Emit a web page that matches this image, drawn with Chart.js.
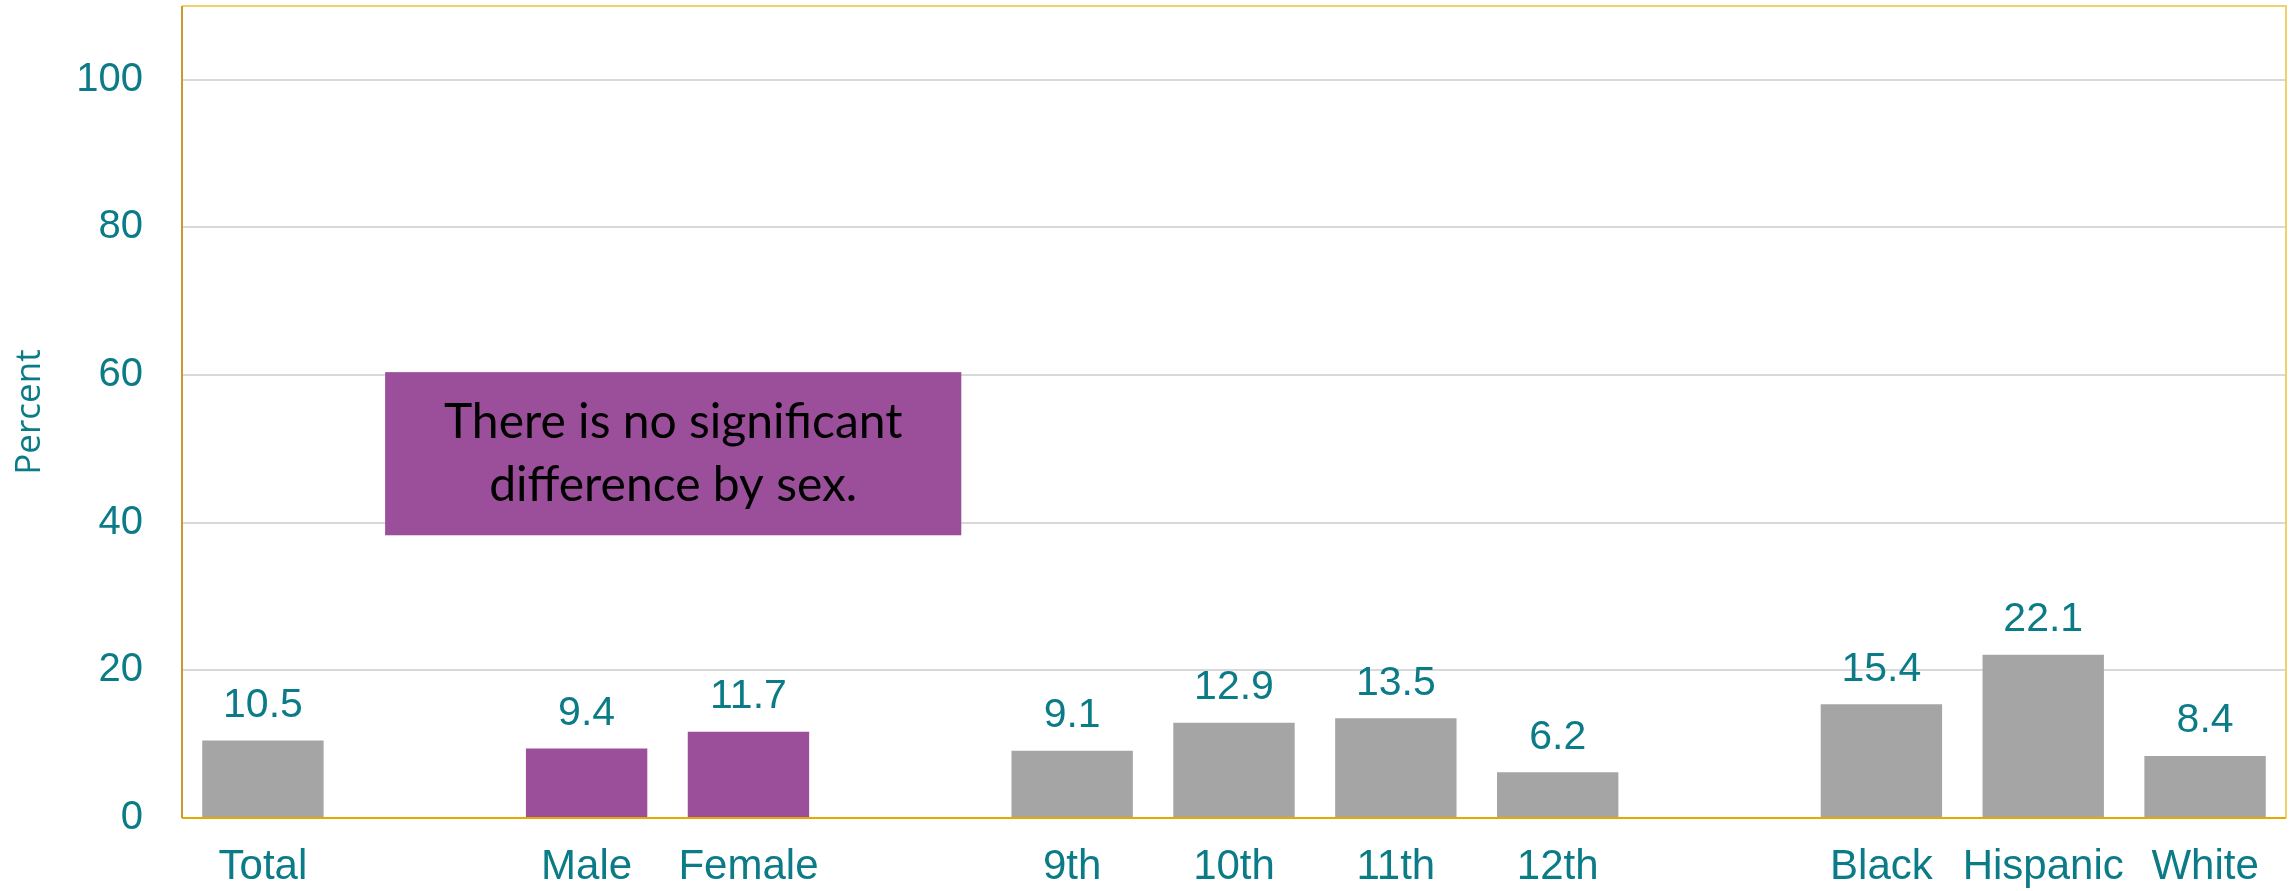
<!DOCTYPE html>
<html>
<head>
<meta charset="utf-8">
<script src="https://cdn.jsdelivr.net/npm/chart.js@4/dist/chart.umd.min.js"></script>
<style>
  html, body { margin: 0; padding: 0; background: #fff; }
  #wrap { width: 2293px; height: 891px; position: relative; }
</style>
</head>
<body>
<div id="wrap"><canvas id="chart"></canvas></div>
<script>
// ==== Données
const categories = ["Total", "", "Male", "Female", "", "9th", "10th", "11th", "12th", "", "Black", "Hispanic", "White"];
const values = [10.5, null, 9.4, 11.7, null, 9.1, 12.9, 13.5, 6.2, null, 15.4, 22.1, 8.4];
const barGroups = ["total", null, "sex", "sex", null, "grade", "grade", "grade", "grade", null, "race", "race", "race"];
const yTicks = [0, 20, 40, 60, 80, 100];
const yMax = 110;
const noteLines = ["There is no significant", "difference by sex."];

// ==== Couleurs
const TEAL = "#0a7b87";
const GREY = "#a5a5a5";
const PURPLE = "#9b4f9b";

const barColors = barGroups.map(g => (g === "sex" ? PURPLE : GREY));

// ==== Plugins maison
const plotBorder = {
  id: "plotBorder",
  afterDraw(chart) {
    const { ctx, chartArea: a } = chart;
    ctx.save();
    ctx.lineWidth = 2;
    ctx.strokeStyle = "#f1d06e";
    ctx.beginPath();
    ctx.moveTo(a.left, a.top); ctx.lineTo(a.right, a.top); ctx.lineTo(a.right, a.bottom);
    ctx.stroke();
    ctx.strokeStyle = "#e5a900";
    ctx.beginPath();
    ctx.moveTo(a.left, a.bottom); ctx.lineTo(a.right, a.bottom);
    ctx.stroke();
    ctx.strokeStyle = "#c99a28";
    ctx.beginPath();
    ctx.moveTo(a.left, a.top); ctx.lineTo(a.left, a.bottom);
    ctx.stroke();
    ctx.restore();
  }
};

const valueLabels = {
  id: "valueLabels",
  afterDatasetsDraw(chart) {
    const { ctx } = chart;
    const meta = chart.getDatasetMeta(0);
    ctx.save();
    ctx.fillStyle = TEAL;
    ctx.font = "41px 'Liberation Sans', Arial, sans-serif";
    ctx.textAlign = "center";
    ctx.textBaseline = "middle";
    meta.data.forEach((bar, i) => {
      if (values[i] == null) return;
      ctx.fillText(values[i].toFixed(1), bar.x, bar.y - 35);
    });
    ctx.restore();
  }
};

const noteBox = {
  id: "noteBox",
  afterDraw(chart) {
    const { ctx } = chart;
    const x = chart.scales.x, y = chart.scales.y;
    const left = x.getPixelForValue(0.755), right = x.getPixelForValue(4.315);
    const top = y.getPixelForValue(60.4), bottom = y.getPixelForValue(38.3);
    ctx.save();
    ctx.fillStyle = PURPLE;
    ctx.fillRect(left, top, right - left, bottom - top);
    ctx.fillStyle = "#000";
    ctx.font = "48px Lato, 'Open Sans', sans-serif";
    ctx.textAlign = "center";
    ctx.textBaseline = "middle";
    const cx = (left + right) / 2, cy = (top + bottom) / 2;
    ctx.fillText(noteLines[0], cx, cy - 31);
    ctx.fillText(noteLines[1], cx, cy + 32);
    ctx.restore();
  }
};

// ==== Graphique
const ctx = document.getElementById("chart").getContext("2d");
new Chart(ctx, {
  type: "bar",
  data: {
    labels: categories,
    datasets: [{
      data: values,
      backgroundColor: barColors,
      borderWidth: 0,
      categoryPercentage: 1,
      barPercentage: 0.75,
    }],
  },
  options: {
    responsive: true,
    maintainAspectRatio: false,
    animation: false,
    layout: { padding: { top: 6, right: 7, left: 0, bottom: 0 } },
    plugins: { legend: { display: false }, tooltip: { enabled: false } },
    scales: {
      x: {
        grid: { display: false, drawTicks: false },
        border: { display: false },
        ticks: {
          color: TEAL,
          font: { family: "'Liberation Sans', Arial, sans-serif", size: 42 },
          padding: 24,
          maxRotation: 0,
          autoSkip: false,
        },
        afterFit(s) {
          s.height = 73;
          s.paddingLeft = 0; s.paddingRight = 0;
        },
      },
      y: {
        min: 0,
        max: yMax,
        afterBuildTicks(s) { s.ticks = yTicks.map(v => ({ value: v })); },
        grid: {
          color: ctx => (ctx.tick && ctx.tick.value === 0 ? "rgba(0,0,0,0)" : "#d9d9d9"),
          lineWidth: 2,
          drawTicks: false,
        },
        border: { display: false },
        ticks: {
          color: TEAL,
          font: { family: "'Liberation Sans', Arial, sans-serif", size: 40 },
          padding: 39,
        },
        title: {
          display: true,
          text: "Percent",
          color: TEAL,
          font: { family: "'Open Sans', sans-serif", size: 35 },
          padding: { top: 9, bottom: 0 },
        },
        afterFit(s) {
          s.width = 182;
          s.paddingTop = 0; s.paddingBottom = 0;
        },
      },
    },
  },
  plugins: [plotBorder, valueLabels, noteBox],
});
</script>
</body>
</html>
